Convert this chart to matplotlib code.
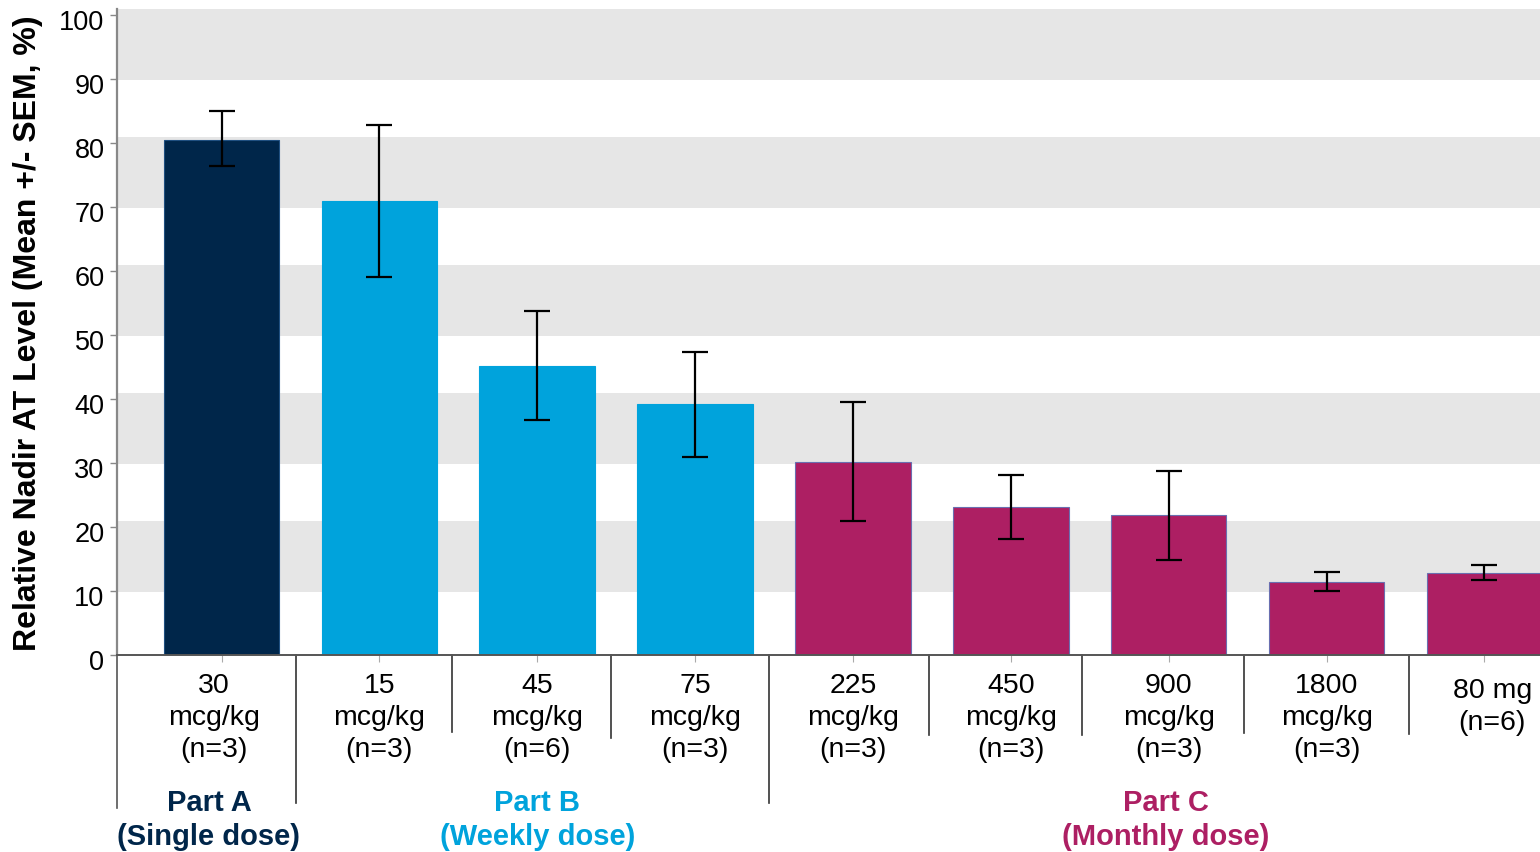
import matplotlib
matplotlib.use("Agg")
import matplotlib.pyplot as plt
import matplotlib.transforms as mtrans
from matplotlib.lines import Line2D

plt.rcParams['font.family'] = ['Liberation Sans', 'DejaVu Sans']

# data
doses = ['30\nmcg/kg\n(n=3)', '15\nmcg/kg\n(n=3)', '45\nmcg/kg\n(n=6)', '75\nmcg/kg\n(n=3)',
         '225\nmcg/kg\n(n=3)', '450\nmcg/kg\n(n=3)', '900\nmcg/kg\n(n=3)', '1800\nmcg/kg\n(n=3)',
         '80 mg\n(n=6)']
parts = ['A', 'B', 'B', 'B', 'C', 'C', 'C', 'C', 'C']
means = [80.5, 70.9, 45.2, 39.2, 30.2, 23.1, 21.9, 11.35, 12.8]
err_up = [4.5, 11.9, 8.6, 8.1, 9.3, 5.0, 6.85, 1.65, 1.2]
err_down = [4.1, 11.8, 8.5, 8.3, 9.3, 5.0, 7.1, 1.35, 1.1]
yticks = [0, 10, 20, 30, 40, 50, 60, 70, 80, 90, 100]

part_names = {'A': 'Part A\n(Single dose)', 'B': 'Part B\n(Weekly dose)', 'C': 'Part C\n(Monthly dose)'}
part_colors = {'A': '#00264a', 'B': '#00a3dc', 'C': '#ad1f63'}
part_edges = {'A': '#1f4f80', 'B': '#00a3dc', 'C': '#6a6fb0'}

W, H = 1540, 852
fig = plt.figure(figsize=(W / 100, H / 100), dpi=100)
ax = fig.add_axes([117 / W, 1 - 655 / H, 1 - 117 / W, (655 - 8.6) / H])

x = list(range(len(doses)))
ax.set_xlim(-0.662, 8.352)
ax.set_ylim(0, 101)

# grey bands
for lo in [10, 30, 50, 70, 90]:
    ax.axhspan(lo - 0.2, lo + 10.9, color='#e6e6e6', lw=0, zorder=0)

ax.bar(x, means, width=0.732, color=[part_colors[p] for p in parts],
       edgecolor=[part_edges[p] for p in parts], linewidth=0.8, zorder=2)
ax.errorbar(x, means, yerr=[err_down, err_up], fmt='none', ecolor='black',
            elinewidth=1.6, capsize=9.5, capthick=1.6, zorder=3)

ax.set_yticks(yticks)
ax.set_yticklabels([str(t) for t in yticks], fontsize=19.5)
ax.tick_params(axis='y', length=5, width=1, color='#888888', pad=4)
shift = mtrans.ScaledTranslation(0, -5 / 100, fig.dpi_scale_trans)
for lab in ax.get_yticklabels():
    lab.set_transform(lab.get_transform() + shift)
ax.set_xticks(x)
ax.set_xticklabels([])
ax.tick_params(axis='x', length=5, width=0.8, color='#aaaaaa', direction='out')

ax.spines['top'].set_visible(False)
ax.spines['right'].set_visible(False)
ax.spines['left'].set_color('#888888')
ax.spines['left'].set_linewidth(1.6)
ax.spines['bottom'].set_color('#555555')
ax.spines['bottom'].set_linewidth(1.4)

tr = mtrans.blended_transform_factory(ax.transData, fig.transFigure)

# category labels under the bars
label_dx = [-0.05, 0, 0, 0, 0, 0, 0, 0, 0.05]
for i, lab in enumerate(doses):
    yc = 718 if lab.count('\n') == 2 else 707
    ax.text(i + label_dx[i], 1 - yc / H, lab, transform=tr, ha='center', va='center',
            fontsize=20.5, linespacing=1.3)

# divider lines below the axis
left_px = [(-0.662, 808)]
divs = [(0.47, 803), (1.46, 732), (2.47, 738), (3.47, 803), (4.48, 735),
        (5.45, 735), (6.48, 733), (7.52, 734)]
for xd, bottom in left_px + divs:
    ax.add_line(Line2D([xd, xd], [1 - 655 / H, 1 - bottom / H], transform=tr,
                       color='#333333' if xd > 0 else '#555555', lw=1.2, clip_on=False))

# part labels
for p, xpos in [('A', -0.08), ('B', 2.0), ('C', 5.98)]:
    ax.text(xpos, 1 - 820 / H, part_names[p], transform=tr, ha='center', va='center',
            fontsize=21, fontweight='bold', color=part_colors[p], linespacing=1.25)

fig.text(28 / W, 1 - 333 / H, 'Relative Nadir AT Level (Mean +/- SEM, %)', rotation=90,
         ha='center', va='center', fontsize=23, fontweight='bold')

fig.savefig('out.png', dpi=100)
